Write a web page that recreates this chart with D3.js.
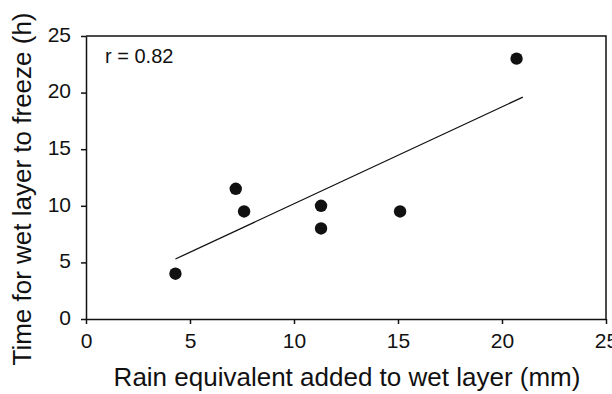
<!DOCTYPE html>
<html>
<head>
<meta charset="utf-8">
<script src="https://cdn.jsdelivr.net/npm/d3@7"></script>
<style>
  body { margin: 0; background: #fff; }
  text { font-family: "Liberation Sans", Arial, sans-serif; fill: #111; }
  .axis path, .axis line { stroke: #111; stroke-width: 1.5; }
</style>
</head>
<body>
<div id="chart"></div>
<script>
// rain equivalent (mm) vs time to freeze (h)
var rainMM = [4.3, 7.2, 7.6, 11.3, 11.3, 15.1, 20.7];
var freezeH = [4.0, 11.5, 9.5, 10.0, 8.0, 9.5, 23.0];

// fitted line
var fitX = [4.3, 21.0];
var fitY = [5.3, 19.6];

var xTicks = [0, 5, 10, 15, 20, 25];
var yTicks = [0, 5, 10, 15, 20, 25];
var rLabel = "r = 0.82";

var margin = { top: 36, right: 6, bottom: 75, left: 86 },
  width = 612 - margin.left - margin.right,
  height = 394 - margin.top - margin.bottom;

var svg = d3.select("#chart").append("svg")
  .attr("width", 612)
  .attr("height", 394);

var g = svg.append("g")
  .attr("transform", "translate(" + margin.left + "," + margin.top + ")");

var x = d3.scaleLinear().domain([0, 25]).range([0, width]);
var y = d3.scaleLinear().domain([0, 25]).range([height, 0]);

// frame top + right
g.append("path")
  .attr("d", "M0,0H" + width + "V" + height)
  .attr("fill", "none")
  .attr("stroke", "#111")
  .attr("stroke-width", 1.5);

var xAxis = g.append("g")
  .attr("class", "axis")
  .attr("transform", "translate(0," + height + ")")
  .call(d3.axisBottom(x).tickValues(xTicks).tickSize(5).tickSizeOuter(0));
xAxis.selectAll("text")
  .attr("y", 29)
  .attr("dy", null)
  .style("font-size", "21px");

var yAxis = g.append("g")
  .attr("class", "axis")
  .call(d3.axisLeft(y).tickValues(yTicks).tickSize(5).tickSizeOuter(0));
yAxis.selectAll("text")
  .attr("x", -15)
  .attr("dy", "0.25em")
  .style("font-size", "21px");

svg.selectAll(".axis text").attr("fill", "#111");

var line = d3.line()
  .x(function(d) { return x(d[0]); })
  .y(function(d) { return y(d[1]); });

g.append("path")
  .datum(d3.zip(fitX, fitY))
  .attr("fill", "none")
  .attr("stroke", "#111")
  .attr("stroke-width", 1.3)
  .attr("d", line);

g.selectAll(".dot")
  .data(d3.zip(rainMM, freezeH))
  .enter().append("circle")
  .attr("class", "dot")
  .attr("cx", function(d) { return x(d[0]); })
  .attr("cy", function(d) { return y(d[1]); })
  .attr("r", 6.2)
  .attr("fill", "#111");

g.append("text")
  .attr("x", 19)
  .attr("y", 27)
  .style("font-size", "20px")
  .text(rLabel);

svg.append("text")
  .attr("x", 347)
  .attr("y", 386)
  .attr("text-anchor", "middle")
  .style("font-size", "26px")
  .text("Rain equivalent added to wet layer (mm)");

svg.append("text")
  .attr("transform", "translate(31,189) rotate(-90)")
  .attr("text-anchor", "middle")
  .style("font-size", "26px")
  .text("Time for wet layer to freeze (h)");
</script>
</body>
</html>
